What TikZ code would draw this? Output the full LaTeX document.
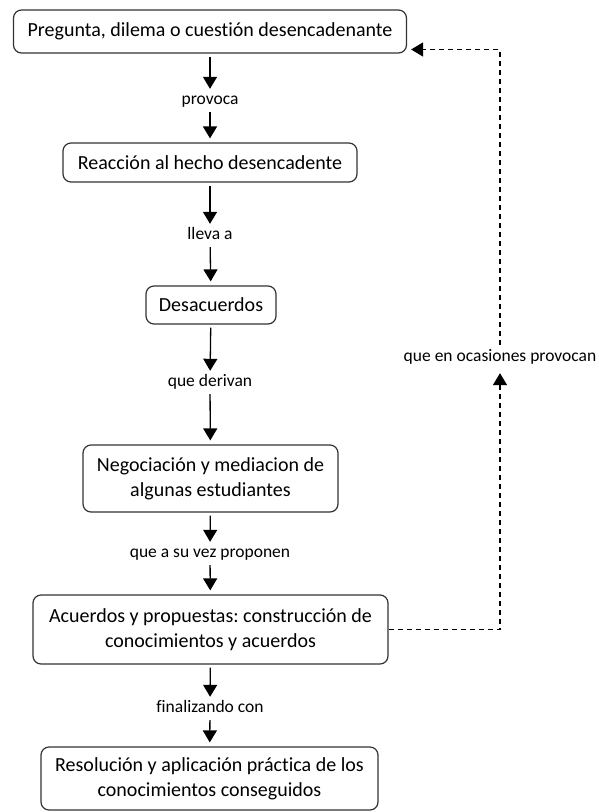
\documentclass[tikz,border=0pt]{standalone}
\usepackage{fontspec}
\setmainfont{Carlito}[Ligatures=NoCommon]
\usetikzlibrary{arrows.meta}
\frenchspacing

\tikzset{
  stepbox/.style={draw=black!80, line width=1.2pt, rounded corners=8pt, align=center,
    inner sep=0pt, font=\fontsize{20}{25}\selectfont},
  verb/.style={inner sep=0pt, text height=11pt, text depth=3pt, font=\fontsize{17.5}{20}\selectfont},
  flow/.style={-{Triangle[width=14pt,length=12pt]}, line width=1.3pt, shorten <=3pt, shorten >=4pt},
  back/.style={flow, dash pattern=on 5pt off 4pt, line width=1.4pt}
}

\begin{document}
\begin{tikzpicture}[x=1pt, y=-1pt]
		%%%%% START %%%%%
		\useasboundingbox (0,0) rectangle (599,812);
		
		% steps
		\node[stepbox, minimum width=393pt, minimum height=43pt] (b1) at (210,31.5) {Pregunta, dilema o cuestión desencadenante};
		\node[stepbox, minimum width=294pt, minimum height=39pt] (b2) at (210,162.5) {Reacción al hecho desencadente};
		\node[stepbox, minimum width=130pt, minimum height=38pt] (b3) at (211,305) {Desacuerdos};
		\node[stepbox, minimum width=255pt, minimum height=67pt] (b4) at (210.5,478.5) {Negociación y mediacion de\\algunas estudiantes};
		\node[stepbox, minimum width=355pt, minimum height=69pt] (b5) at (210.5,629.5) {Acuerdos y propuestas: construcción de\\conocimientos y acuerdos};
		\node[stepbox, minimum width=337pt, minimum height=63pt] (b6) at (209.5,778.5) {Resolución y aplicación práctica de los\\conocimientos conseguidos};
		
		% verbs
		\node[verb] (l1) at (210,100) {provoca};
		\node[verb] (l2) at (210,235) {lleva a};
		\node[verb] (l3) at (210,382) {que derivan};
		\node[verb] (l4) at (210,553) {que a su vez proponen};
		\node[verb] (l5) at (210,708) {finalizando con};
		\node[verb] (l6) at (500,357) {que en ocasiones provocan};
		
		\draw[flow] (b1) -- (l1);
		\draw[flow, shorten <=5pt] (l1) -- (b2);
		\draw[flow] (b2) -- (l2);
		\draw[flow, shorten <=5pt] (l2) -- (b3);
		\draw[flow] (b3) -- (l3);
		\draw[flow, shorten <=5pt] (l3) -- (b4);
		\draw[flow] (b4) -- (l4);
		\draw[flow, shorten <=5pt] (l4) -- (b5);
		\draw[flow] (b5) -- (l5);
		\draw[flow, shorten <=5pt] (l5) -- (b6);
		
		% loop back
		\draw[back, shorten <=0pt, shorten >=9pt] (b5.east) -| (l6.south);
		\draw[back, shorten <=5pt] (l6.north) |- ([yshift=-18pt]b1.east);
		
		%%%%% END %%%%%
	\end{tikzpicture}
\end{document}
